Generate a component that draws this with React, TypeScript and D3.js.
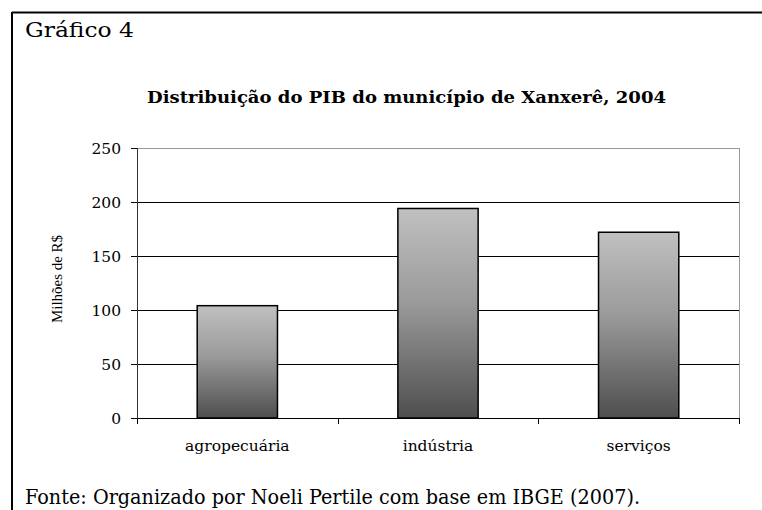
import React from "react";
import * as d3 from "d3";

const categories = ["agropecuária", "indústria", "serviços"];
const values = [104, 194, 172];
const yTicks = [0, 50, 100, 150, 200, 250];

const W = 762;
const H = 510;
const m = { left: 137, right: 739, top: 148, bottom: 418 };
const FONT = "'DejaVu Serif', serif";

export default function App() {
  const x = d3.scaleBand<string>().domain(categories).range([m.left, m.right]).paddingInner(0.6).paddingOuter(0.3);
  const xb = d3.scaleBand<string>().domain(categories).range([m.left, m.right]);
  const y = d3.scaleLinear().domain([0, 250]).range([m.bottom, m.top]);
  const boundaries = [m.left, ...categories.map((c) => (xb(c) as number) + xb.bandwidth())];

  return (
    <svg width={W} height={H} style={{ position: "absolute", left: 0, top: 0, background: "#fff" }}>
      <defs>
        <linearGradient id="barGrad" x1="0" y1="0" x2="0" y2="1">
          <stop offset="0" stopColor="#c0c0c0" />
          <stop offset="0.45" stopColor="#9a9a9a" />
          <stop offset="1" stopColor="#4e4e4e" />
        </linearGradient>
      </defs>
      <rect x={0} y={0} width={W} height={H} fill="#fff" />
      {/* outer frame */}
      <line x1={12} y1={12.5} x2={W} y2={12.5} stroke="#000" strokeWidth={2} />
      <line x1={12} y1={12} x2={12} y2={H} stroke="#000" strokeWidth={2} />

      <text x={25} y={37} fontFamily={FONT} fontSize={21} textLength={109} lengthAdjust="spacingAndGlyphs" fill="#000">
        Gráfico 4
      </text>
      <text x={147} y={103} fontFamily={FONT} fontSize={16.5} fontWeight="bold" textLength={519} lengthAdjust="spacingAndGlyphs" fill="#000">
        Distribuição do PIB do município de Xanxerê, 2004
      </text>

      {/* gridlines */}
      {yTicks.map((t) => (
        <line
          key={t}
          x1={m.left}
          x2={m.right}
          y1={Math.round(y(t)) + 0.5}
          y2={Math.round(y(t)) + 0.5}
          stroke={t === 250 ? "#999" : "#000"}
          strokeWidth={1}
        />
      ))}
      {/* right border */}
      <line x1={m.right + 0.5} x2={m.right + 0.5} y1={m.top} y2={m.bottom} stroke="#999" strokeWidth={1} />
      {/* y ticks and labels */}
      {yTicks.map((t) => (
        <g key={"yt" + t}>
          <line x1={m.left - 6} x2={m.left} y1={Math.round(y(t)) + 0.5} y2={Math.round(y(t)) + 0.5} stroke="#000" />
          <text x={121} y={y(t)} dy="0.36em" textAnchor="end" fontFamily={FONT} fontSize={15.5} fill="#000">
            {t}
          </text>
        </g>
      ))}

      {/* bars */}
      {categories.map((c, i) => (
        <rect
          key={c}
          x={x(c)}
          y={y(values[i])}
          width={x.bandwidth()}
          height={m.bottom - y(values[i])}
          fill="url(#barGrad)"
          stroke="#000"
          strokeWidth={1.5}
        />
      ))}

      {/* axes */}
      <line x1={m.left + 0.5} x2={m.left + 0.5} y1={m.top} y2={m.bottom} stroke="#333" strokeWidth={1} />
      <line x1={m.left} x2={m.right + 1} y1={m.bottom + 0.5} y2={m.bottom + 0.5} stroke="#000" strokeWidth={1} />
      {boundaries.map((b, i) => (
        <line key={"xt" + i} x1={Math.round(b) + 0.5} x2={Math.round(b) + 0.5} y1={m.bottom} y2={m.bottom + 6} stroke="#000" />
      ))}
      {categories.map((c) => (
        <text
          key={"xl" + c}
          x={(xb(c) as number) + xb.bandwidth() / 2}
          y={451}
          textAnchor="middle"
          fontFamily={FONT}
          fontSize={15.5}
          fill="#000"
        >
          {c}
        </text>
      ))}

      <text
        transform={`translate(62,279) rotate(-90)`}
        textAnchor="middle"
        fontFamily="'Liberation Serif', serif"
        fontSize={15}
        textLength={88}
        lengthAdjust="spacingAndGlyphs"
        fill="#000"
      >
        Milhões de R$
      </text>

      <text x={25} y={504} fontFamily={FONT} fontSize={19.5} textLength={615} lengthAdjust="spacingAndGlyphs" fill="#000">
        Fonte: Organizado por Noeli Pertile com base em IBGE (2007).
      </text>
    </svg>
  );
}
